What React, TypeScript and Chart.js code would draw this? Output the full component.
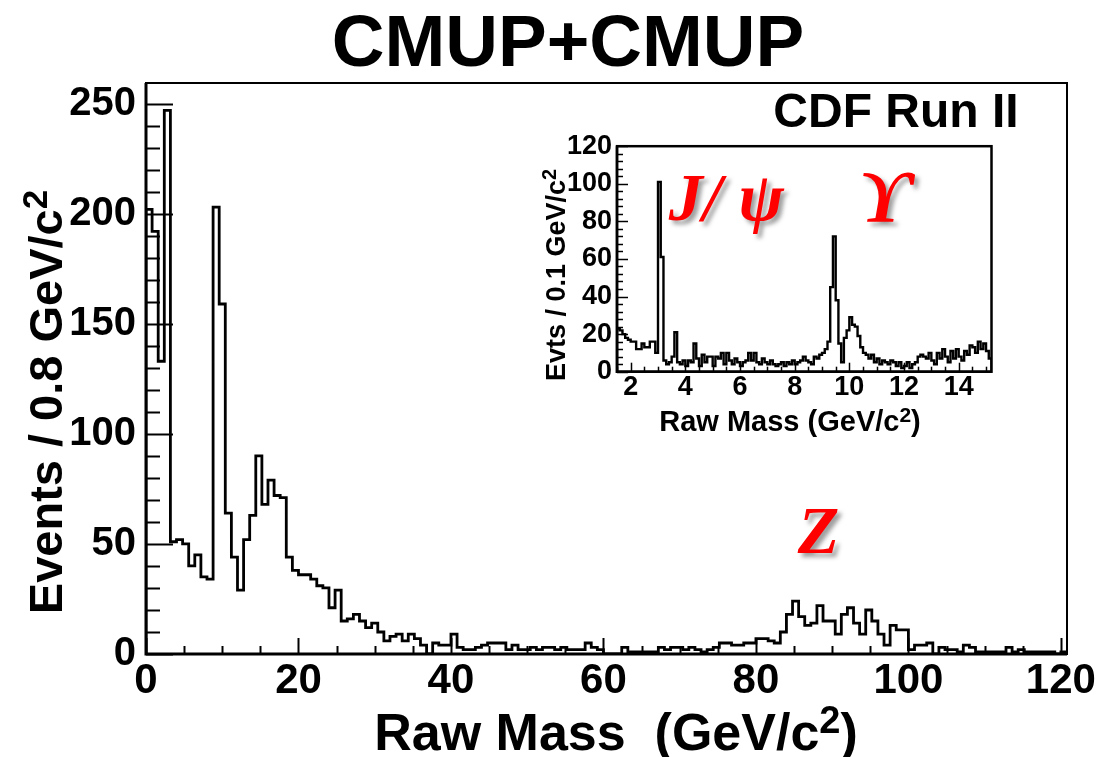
import React, { useEffect, useRef } from "react";
import { Chart, registerables } from "chart.js";

Chart.register(...registerables);

// ---- Full dimuon spectrum: 0.8 GeV/c^2 bins starting at 0 ----
const MAIN_X_MIN = 0;
const MAIN_BIN_WIDTH = 0.8;
const mainCounts = [
  202, 192, 133, 247, 51, 52, 50, 40, 45, 35,
  34, 203, 159, 64, 44, 29, 52, 63, 90, 68,
  79, 72, 71, 44, 38, 36, 36, 34, 31, 30,
  21, 29, 15, 16, 18, 15, 12, 14, 10, 6,
  8, 9, 6, 9, 7, 4, 0, 5, 4, 4,
  9, 3, 2, 2, 3, 4, 5, 5, 5, 2,
  4, 2, 2, 3, 2, 3, 3, 2, 3, 2,
  2, 2, 5, 3, 2, 0, 0, 0, 3, 1,
  1, 1, 1, 1, 3, 2, 3, 3, 2, 3,
  2, 1, 2, 3, 5, 5, 4, 4, 5, 5,
  7, 7, 6, 5, 10, 18, 24, 17, 13, 14,
  22, 15, 15, 9, 18, 21, 14, 9, 20, 15,
  9, 4, 13, 11, 11, 2, 4, 4, 5, 0,
  3, 2, 2, 1, 4, 3, 1, 1, 1, 1,
  1, 3, 1, 2, 1, 1, 1, 1, 1, 0, 1,
];
const mainXTicks = [0, 20, 40, 60, 80, 100, 120];
const mainYTicks = [0, 50, 100, 150, 200, 250];

// ---- Low-mass region: 0.1 GeV/c^2 bins starting at 1.5 ----
const INSET_X_MIN = 1.5;
const INSET_BIN_WIDTH = 0.1;
const insetCounts = [
  23, 22, 20, 18, 17, 16, 16, 12, 12, 15,
  13, 13, 16, 16, 10, 101, 61, 6, 4, 5,
  8, 21, 5, 4, 6, 3, 6, 5, 15, 7,
  3, 9, 5, 8, 8, 3, 8, 7, 10, 4,
  10, 6, 4, 7, 5, 3, 5, 6, 10, 6,
  10, 5, 4, 7, 5, 4, 6, 4, 3, 4,
  5, 3, 5, 4, 6, 4, 5, 6, 8, 6,
  5, 4, 8, 7, 9, 10, 12, 16, 45, 72,
  38, 15, 5, 18, 22, 29, 25, 24, 19, 13,
  10, 9, 7, 9, 5, 7, 4, 6, 5, 4,
  6, 5, 3, 5, 2, 3, 5, 2, 4, 5,
  8, 9, 8, 7, 10, 6, 4, 10, 7, 12,
  8, 5, 11, 7, 12, 8, 6, 11, 9, 14,
  13, 10, 16, 12, 15, 11, 7,
];
const insetXTicks = [2, 4, 6, 8, 10, 12, 14];
const insetYTicks = [0, 20, 40, 60, 80, 100, 120];

const SANS = '"Liberation Sans", Arial, Helvetica, sans-serif';
const SERIF = '"Liberation Serif", "DejaVu Serif", "Times New Roman", serif';

// Outline of a histogram as step points: rises at the first edge, drops at the last.
function histPoints(counts: number[], x0: number, w: number) {
  const pts: { x: number; y: number }[] = [{ x: x0, y: 0 }];
  counts.forEach((c, i) => pts.push({ x: x0 + i * w, y: c }));
  const xEnd = x0 + counts.length * w;
  pts.push({ x: xEnd, y: counts[counts.length - 1] });
  pts.push({ x: xEnd, y: 0 });
  return pts;
}

// Text with a raised exponent, centred on (x, y), optionally rotated.
function drawSupText(
  ctx: CanvasRenderingContext2D,
  base: string,
  sup: string,
  tail: string,
  size: number,
  x: number,
  y: number,
  rotate: boolean
) {
  ctx.save();
  ctx.translate(x, y);
  if (rotate) ctx.rotate(-Math.PI / 2);
  const mainFont = `bold ${size}px ${SANS}`;
  const supFont = `bold ${Math.round(size * 0.74)}px ${SANS}`;
  ctx.font = mainFont;
  const wb = ctx.measureText(base).width;
  const wt = ctx.measureText(tail).width;
  ctx.font = supFont;
  const ws = ctx.measureText(sup).width;
  let cx = -(wb + ws + wt) / 2;
  const baseY = size * 0.36;
  ctx.fillStyle = "#000";
  ctx.textAlign = "left";
  ctx.textBaseline = "alphabetic";
  ctx.font = mainFont;
  ctx.fillText(base, cx, baseY);
  cx += wb;
  ctx.font = supFont;
  ctx.fillText(sup, cx, baseY - size * 0.32);
  cx += ws;
  ctx.font = mainFont;
  ctx.fillText(tail, cx, baseY);
  ctx.restore();
}

// Red particle label with a soft grey drop shadow.
function drawRedLabel(ctx: CanvasRenderingContext2D, text: string, font: string, x: number, y: number) {
  ctx.save();
  ctx.font = font;
  ctx.textAlign = "center";
  ctx.textBaseline = "middle";
  ctx.shadowColor = "rgba(80,80,80,0.55)";
  ctx.shadowBlur = 4;
  ctx.shadowOffsetX = 4;
  ctx.shadowOffsetY = 4;
  ctx.fillStyle = "#ff0000";
  ctx.fillText(text, x, y);
  ctx.restore();
}

// Frame box plus inward-pointing major/minor ticks on the left and bottom axes.
const frameTicks = {
  id: "frameTicks",
  afterDatasetsDraw(chart: any, _args: any, opts: any) {
    const { ctx, chartArea: a, scales } = chart;
    const xs = scales.x;
    const ys = scales.y;
    ctx.save();
    ctx.strokeStyle = "#000";
    ctx.lineCap = "butt";
    ctx.lineWidth = opts.tickWidth;
    const eps = 1e-6;
    for (let v = Math.ceil(xs.min / opts.xMinor - eps) * opts.xMinor; v <= xs.max + eps; v += opts.xMinor) {
      const isMajor = Math.abs(v / opts.xMajor - Math.round(v / opts.xMajor)) < 1e-6;
      const len = isMajor ? opts.xMajorLen : opts.xMinorLen;
      const px = Math.round(xs.getPixelForValue(v)) + 0.5;
      ctx.beginPath();
      ctx.moveTo(px, a.bottom);
      ctx.lineTo(px, a.bottom - len);
      ctx.stroke();
    }
    for (let v = Math.ceil(ys.min / opts.yMinor - eps) * opts.yMinor; v <= ys.max + eps; v += opts.yMinor) {
      const isMajor = Math.abs(v / opts.yMajor - Math.round(v / opts.yMajor)) < 1e-6;
      const len = isMajor ? opts.yMajorLen : opts.yMinorLen;
      const py = Math.round(ys.getPixelForValue(v)) + 0.5;
      ctx.beginPath();
      ctx.moveTo(a.left, py);
      ctx.lineTo(a.left + len, py);
      ctx.stroke();
    }
    // box
    ctx.lineWidth = opts.boxWidth;
    ctx.strokeRect(a.left, a.top, a.right - a.left, a.bottom - a.top);
    ctx.lineWidth = opts.axisWidth;
    ctx.beginPath();
    ctx.moveTo(a.left, a.top);
    ctx.lineTo(a.left, a.bottom);
    ctx.lineTo(a.right, a.bottom);
    ctx.stroke();
    ctx.restore();
  },
};

// Titles and particle labels of the full spectrum.
const mainText = {
  id: "mainText",
  afterDraw(chart: any) {
    const { ctx, scales } = chart;
    ctx.save();
    ctx.fillStyle = "#000";
    ctx.textAlign = "center";
    ctx.textBaseline = "alphabetic";
    ctx.font = `bold 73px ${SANS}`;
    ctx.fillText("CMUP+CMUP", 568, 66);
    ctx.font = `bold 48px ${SANS}`;
    ctx.fillText("CDF Run II", 896, 127);
    ctx.restore();
    drawSupText(ctx, "Raw Mass  (GeV/c", "2", ")", 52, 616, 731, false);
    drawSupText(ctx, "Events / 0.8 GeV/c", "2", "", 47, 45, 402, true);
    drawRedLabel(
      ctx,
      "Z",
      `italic bold 68px ${SERIF}`,
      scales.x.getPixelForValue(88.2),
      scales.y.getPixelForValue(54)
    );
  },
};

// Titles and particle labels of the low-mass region.
const insetText = {
  id: "insetText",
  afterDraw(chart: any) {
    const { ctx, scales } = chart;
    drawSupText(ctx, "Raw Mass (GeV/c", "2", ")", 29, 265, 296, false);
    drawSupText(ctx, "Evts / 0.1 GeV/c", "2", "", 27, 30, 150, true);
    drawRedLabel(
      ctx,
      "J/ \u03c8",
      `italic bold 68px ${SERIF}`,
      scales.x.getPixelForValue(5.5),
      scales.y.getPixelForValue(90)
    );
    drawRedLabel(
      ctx,
      "\u03d2",
      `italic bold 74px ${SERIF}`,
      scales.x.getPixelForValue(11.3),
      scales.y.getPixelForValue(90)
    );
  },
};

function keepTicks(values: number[]) {
  return (scale: any) => {
    scale.ticks = values.map((v) => ({ value: v }));
  };
}

function HistCanvas(props: {
  width: number;
  height: number;
  left: number;
  top: number;
  points: { x: number; y: number }[];
  xMin: number;
  xMax: number;
  yMax: number;
  xTicks: number[];
  yTicks: number[];
  area: { left: number; top: number; right: number; bottom: number };
  xTickFont: number;
  yTickFont: number;
  yPad: number;
  xPad: number;
  lineWidth: number;
  ticks: any;
  textPlugin: any;
}) {
  const ref = useRef<HTMLCanvasElement | null>(null);
  useEffect(() => {
    if (!ref.current) return;
    const p = props;
    const chart = new Chart(ref.current, {
      type: "line",
      data: {
        datasets: [
          {
            data: p.points,
            stepped: "before",
            borderColor: "#000",
            borderWidth: p.lineWidth,
            pointRadius: 0,
            fill: false,
            tension: 0,
          },
        ],
      },
      options: {
        responsive: false,
        animation: false,
        events: [],
        layout: {
          padding: { left: 0, top: p.area.top, right: p.width - p.area.right, bottom: 0 },
        },
        plugins: {
          legend: { display: false },
          tooltip: { enabled: false },
          title: { display: false },
          frameTicks: p.ticks,
        } as any,
        scales: {
          x: {
            type: "linear",
            min: p.xMin,
            max: p.xMax,
            bounds: "data",
            afterBuildTicks: keepTicks(p.xTicks),
            afterFit: (s: any) => {
              s.height = p.height - p.area.bottom;
            },
            grid: { display: false, drawTicks: false },
            border: { display: false },
            ticks: {
              color: "#000",
              padding: p.xPad,
              maxRotation: 0,
              autoSkip: false,
              font: { family: SANS, size: p.xTickFont, weight: "bold" },
            },
          },
          y: {
            type: "linear",
            min: 0,
            max: p.yMax,
            bounds: "data",
            afterBuildTicks: keepTicks(p.yTicks),
            afterFit: (s: any) => {
              s.width = p.area.left;
            },
            grid: { display: false, drawTicks: false },
            border: { display: false },
            ticks: {
              color: "#000",
              padding: p.yPad,
              autoSkip: false,
              font: { family: SANS, size: p.yTickFont, weight: "bold" },
            },
          },
        },
      } as any,
      plugins: [frameTicks, p.textPlugin],
    });
    return () => chart.destroy();
  }, []);
  return (
    <canvas
      ref={ref}
      width={props.width}
      height={props.height}
      style={{ position: "absolute", left: props.left, top: props.top, width: props.width, height: props.height }}
    />
  );
}

export default function App() {
  const mainPts = histPoints(mainCounts, MAIN_X_MIN, MAIN_BIN_WIDTH);
  const insetPts = histPoints(insetCounts, INSET_X_MIN, INSET_BIN_WIDTH);
  const insetLeft = 525;
  const insetTop = 125;
  return (
    <div style={{ position: "absolute", left: 0, top: 0, width: 1100, height: 757, background: "#fff" }}>
      <HistCanvas
        width={1100}
        height={757}
        left={0}
        top={0}
        points={mainPts}
        xMin={MAIN_X_MIN}
        xMax={MAIN_X_MIN + mainCounts.length * MAIN_BIN_WIDTH}
        yMax={259.4}
        xTicks={mainXTicks}
        yTicks={mainYTicks}
        area={{ left: 146, top: 83, right: 1067, bottom: 654 }}
        xTickFont={42}
        yTickFont={40}
        yPad={10}
        xPad={2}
        lineWidth={2.8}
        ticks={{
          tickWidth: 2,
          boxWidth: 2,
          axisWidth: 3,
          xMinor: 5,
          xMajor: 20,
          xMinorLen: 8,
          xMajorLen: 16,
          yMinor: 10,
          yMajor: 50,
          yMinorLen: 14,
          yMajorLen: 27,
        }}
        textPlugin={mainText}
      />
      <HistCanvas
        width={485}
        height={320}
        left={insetLeft}
        top={insetTop}
        points={insetPts}
        xMin={INSET_X_MIN}
        xMax={INSET_X_MIN + insetCounts.length * INSET_BIN_WIDTH}
        yMax={120}
        xTicks={insetXTicks}
        yTicks={insetYTicks}
        area={{ left: 617 - insetLeft, top: 140 - insetTop, right: 991.5 - insetLeft, bottom: 371.7 - insetTop }}
        xTickFont={27}
        yTickFont={27}
        yPad={5}
        xPad={0}
        lineWidth={2.4}
        ticks={{
          tickWidth: 1.5,
          boxWidth: 2.5,
          axisWidth: 2.5,
          xMinor: 0.5,
          xMajor: 2,
          xMinorLen: 5,
          xMajorLen: 9,
          yMinor: 4,
          yMajor: 20,
          yMinorLen: 6,
          yMajorLen: 11,
        }}
        textPlugin={insetText}
      />
    </div>
  );
}
